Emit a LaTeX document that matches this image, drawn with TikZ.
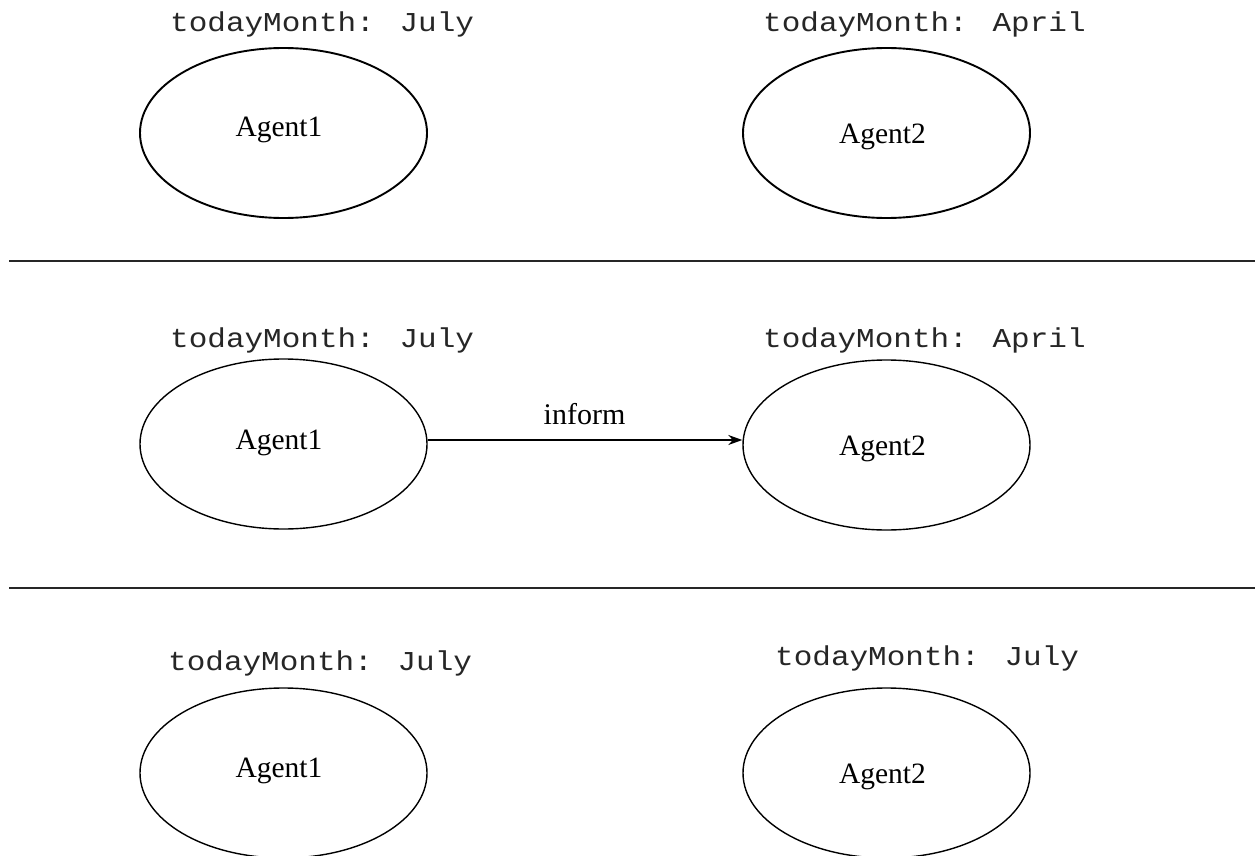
\documentclass[tikz,border=0pt]{standalone}
\usepackage{fontspec}
\setmainfont{Liberation Serif}
\newfontfamily\monof{Liberation Mono}
\usetikzlibrary{shapes.geometric,arrows.meta,calc}
\newcommand{\monotxt}[1]{\scalebox{1}[0.88]{#1}}
\tikzset{
  agent/.style={ellipse,draw,minimum width=287pt,minimum height=170pt,inner sep=0pt},
  agentthick/.style={agent,line width=1.9pt},
  agentthin/.style={agent,line width=1.4pt},
  agentname/.style={anchor=base,inner sep=0pt,font=\fontsize{29.5}{34}\selectfont},
  monthlbl/.style={anchor=base west,inner sep=0pt,text=black!85,font=\monof\fontsize{31}{36}\selectfont},
  sepline/.style={line width=1.8pt,black!85},
  msgarrow/.style={line width=1.3pt,-{Stealth[length=14pt,width=10pt]}},
  msglbl/.style={anchor=base,inner sep=0pt,font=\fontsize{30}{36}\selectfont}
}
\begin{document}
\begin{tikzpicture}[x=1pt,y=-1pt]
\useasboundingbox (0,0) rectangle (1255,856);
\clip (0,0) rectangle (1255,856);
% top row
\node[monthlbl] (l1) at (170,32) {\monotxt{todayMonth: July}};
\node[monthlbl] (l2) at (763,32) {\monotxt{todayMonth: April}};
\node[agentthick] (t1) at (283.5,133) {};
\node[agentthick] (t2) at (886.5,133) {};
\node[agentname] (t1n) at (279,137) {Agent1};
\node[agentname] (t2n) at (882.5,143) {Agent2};
% separators
\coordinate (s1a) at (9,261);
\coordinate (s1b) at (1255,261);
\coordinate (s2a) at (9,588);
\coordinate (s2b) at (1255,588);
\draw[sepline] (s1a) -- (s1b);
\draw[sepline] (s2a) -- (s2b);
% middle row
\node[monthlbl] (l3) at (170,347) {\monotxt{todayMonth: July}};
\node[monthlbl] (l4) at (763,347) {\monotxt{todayMonth: April}};
\node[agentthin] (m1) at (283.5,444) {};
\node[agentthin] (m2) at (886.5,445) {};
\node[agentname] (m1n) at (279,449) {Agent1};
\node[agentname] (m2n) at (882.5,455) {Agent2};
\draw[msgarrow] ($(m1.east)+(0,-4)$) -- ($(m2.west)+(0,-5)$);
\node[msglbl] (inf) at (584.5,424) {inform};
% bottom row
\node[monthlbl] (l5) at (168,670) {\monotxt{todayMonth: July}};
\node[monthlbl] (l6) at (775,665) {\monotxt{todayMonth: July}};
\node[agentthin] (b1) at (283.5,773) {};
\node[agentthin] (b2) at (886.5,773) {};
\node[agentname] (b1n) at (279,777) {Agent1};
\node[agentname] (b2n) at (882.5,783) {Agent2};
\end{tikzpicture}
\end{document}
